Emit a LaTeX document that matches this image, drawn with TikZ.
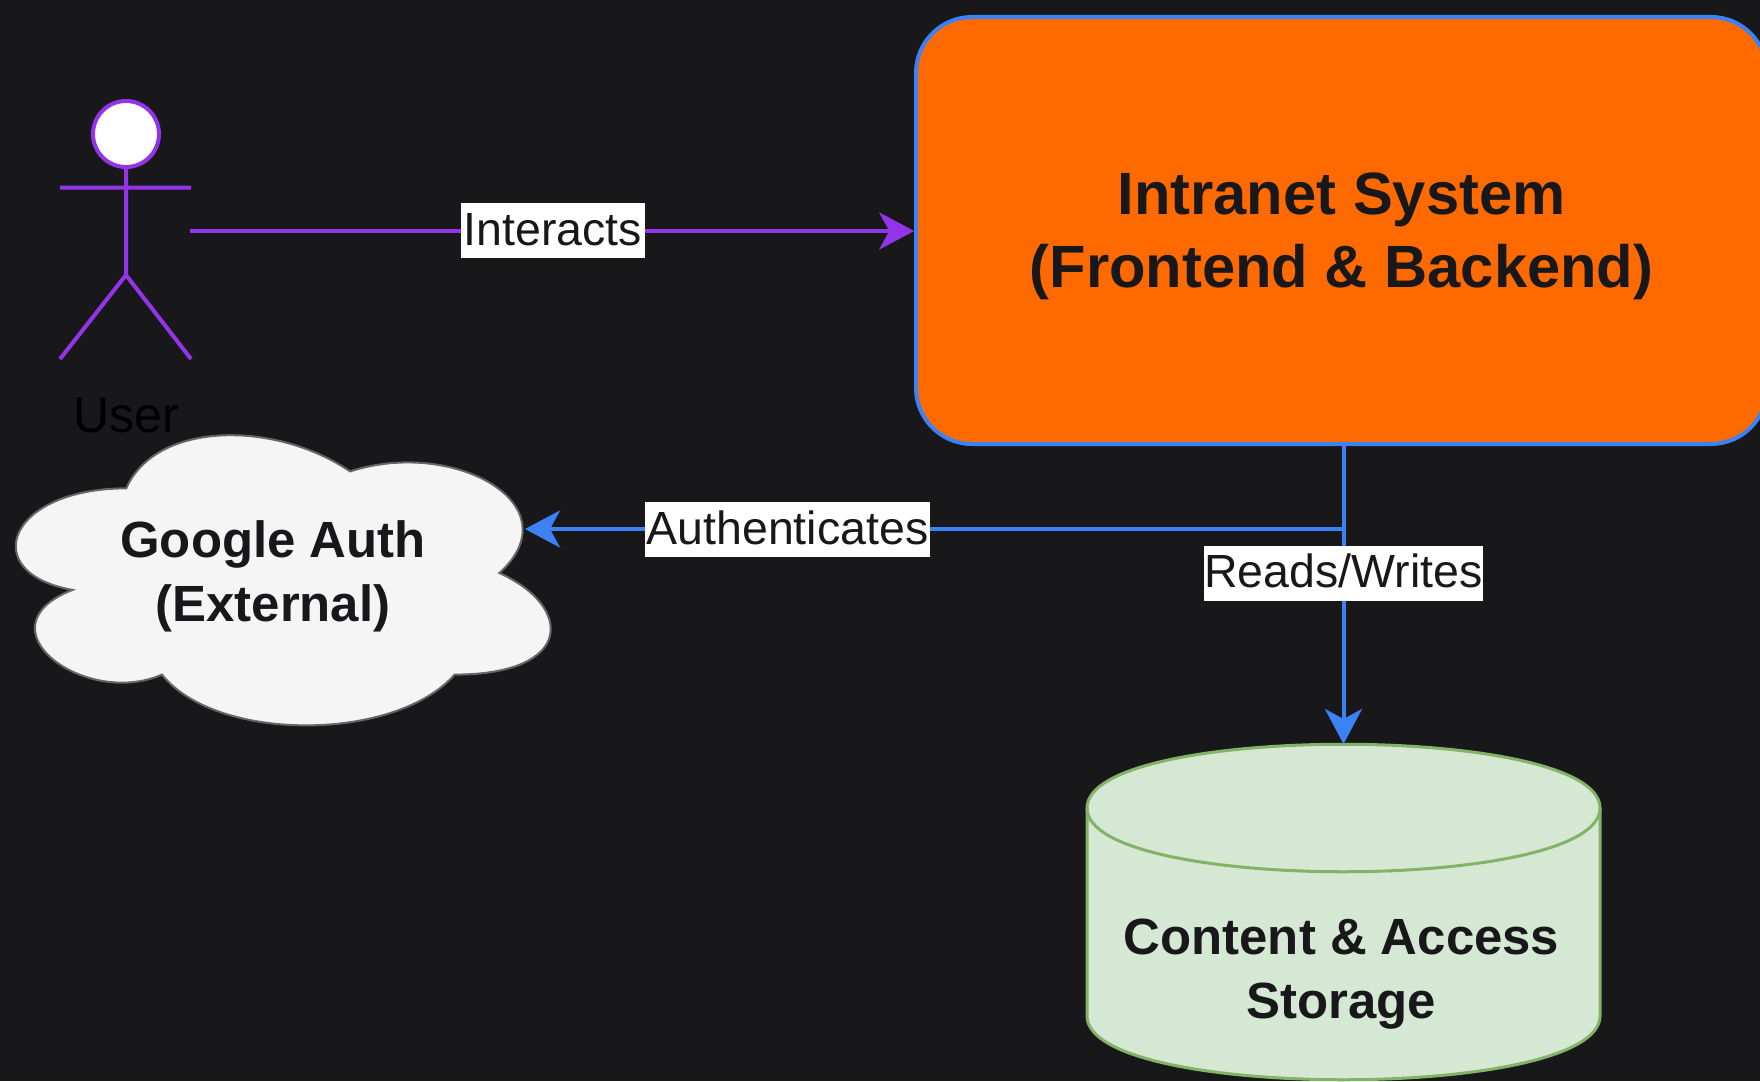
\documentclass[tikz,border=0pt]{standalone}
\usepackage{fontspec}
\setmainfont{Liberation Sans}
\usetikzlibrary{arrows.meta}
\definecolor{bgdark}{HTML}{18181B}
\definecolor{purp}{HTML}{9333EA}
\definecolor{blu}{HTML}{3B82F6}
\definecolor{orng}{HTML}{FF6A00}
\definecolor{grnfill}{HTML}{D5E8D4}
\definecolor{grnline}{HTML}{82B366}
\definecolor{cloudfill}{HTML}{F5F5F5}
\definecolor{cloudline}{HTML}{666666}
\definecolor{inktext}{HTML}{18181B}
\tikzset{
  x=1pt,y=-1pt,
  plabel/.style={fill=white,text=inktext,inner sep=0pt,font=\fontsize{46.5}{54}\selectfont,minimum height=55pt,text height=34pt,text depth=5pt},
  titletext/.style={align=center,text=inktext,font=\bfseries\fontsize{59.7}{73}\selectfont},
  smalltitle/.style={align=center,text=inktext,font=\bfseries\fontsize{50.9}{64}\selectfont},
  purpline/.style={draw=purp,line width=4pt},
  bluline/.style={draw=blu,line width=4pt},
  tipped/.style={-{Stealth[length=35pt,width=37pt,inset=10pt]}},
}
\begin{document}
\begin{tikzpicture}
\useasboundingbox[fill=bgdark] (0,0) rectangle (1760,1081);
% actor
\node[circle,draw=purp,fill=white,line width=4pt,minimum size=66pt,inner sep=0pt,outer sep=0pt] (head) at (126,134) {};
\coordinate (hip) at (126,275);
\coordinate (armL) at (60,187.5);
\coordinate (armR) at (191,187.5);
\coordinate (legL) at (60,359);
\coordinate (legR) at (191,359);
\draw[purpline] (head.south) -- (hip) (armL) -- (armR) (legL) -- (hip) -- (legR);
\node[font=\fontsize{50}{58}\selectfont,text=black] (user) at (126,416) {User};
\coordinate (actorport) at (190,231);
% system box
\node[draw=blu,fill=orng,line width=4pt,rounded corners=56pt,minimum width=851pt,minimum height=427pt,inner sep=0pt,outer sep=0pt,anchor=north west] (sys) at (916,17) {};
\node[titletext] (systext) at (1341.5,236.5) {Intranet System\\(Frontend \& Backend)};
% cloud
\begin{scope}[shift={(2,0)}]
\path[fill=cloudfill,draw=cloudline,line width=2pt]
  (124.25,488.35) .. controls (4.85,488.35) and (-25,573) .. (70.5,589.9)
  .. controls (-25,627.2) and (82.5,708.4) .. (160,674.6)
  .. controls (213.8,742.3) and (392.9,742.3) .. (452.6,674.6)
  .. controls (572,674.6) and (572,606.9) .. (497.4,573)
  .. controls (572,505.3) and (452.6,437.6) .. (348.1,471.4)
  .. controls (273.5,420.6) and (154.1,420.6) .. (124.25,488.35) -- cycle;
\end{scope}
\coordinate (cloudport) at (525,529);
\node[smalltitle] (cloudtext) at (273,576.5) {Google Auth\\(External)};
% cylinder
\coordinate (cyltop) at (1343.5,744);
\path[fill=grnfill,draw=grnline,line width=3pt]
  (1087,808) .. controls (1087,723) and (1600,723) .. (1600,808)
  -- (1600,1016) .. controls (1600,1101) and (1087,1101) .. (1087,1016) -- cycle;
\draw[grnline,line width=3pt] (1087,808) .. controls (1087,893) and (1600,893) .. (1600,808);
\node[smalltitle] (cyltext) at (1341.5,974) {Content \& Access\\Storage};
% connectors
\draw[purpline,tipped,shorten >=1.8pt] (actorport) -- (sys.west |- actorport);
\node[plabel,minimum width=184pt] (l1) at (553,230.5) {Interacts};
\coordinate (junction) at (cyltop |- cloudport);
\draw[bluline,tipped] (junction) -- (cloudport);
\draw[bluline,tipped] (cyltop |- sys.south) -- (cyltop);
\node[plabel,minimum width=285pt] (l2) at (787.5,529.5) {Authenticates};
\node[plabel,minimum width=277pt] (l3) at (1343.5,573) {Reads/Writes};
\end{tikzpicture}
\end{document}
